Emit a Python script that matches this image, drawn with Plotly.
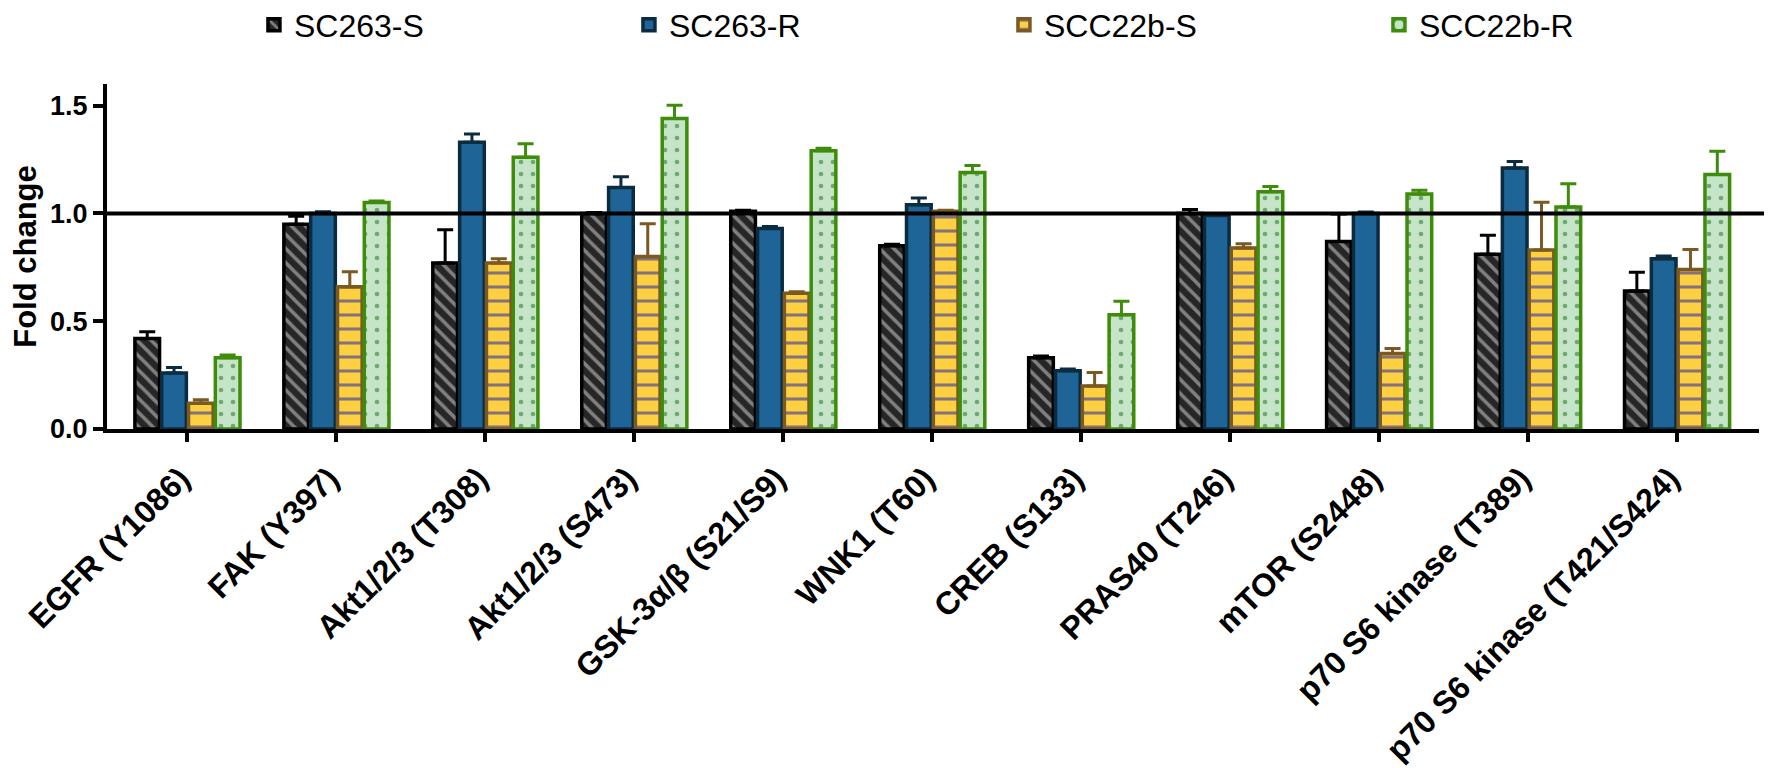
import plotly.graph_objects as go

categories = ["EGFR (Y1086)", "FAK (Y397)", "Akt1/2/3 (T308)", "Akt1/2/3 (S473)",
              "GSK-3α/β (S21/S9)", "WNK1 (T60)", "CREB (S133)", "PRAS40 (T246)",
              "mTOR (S2448)", "p70 S6 kinase (T389)", "p70 S6 kinase (T421/S424)"]

series_names = ["SC263-S", "SC263-R", "SCC22b-S", "SCC22b-R"]

sc263_s = [0.42, 0.95, 0.77, 1.00, 1.01, 0.85, 0.33, 1.00, 0.87, 0.81, 0.64]
sc263_r = [0.26, 1.00, 1.33, 1.12, 0.93, 1.04, 0.27, 0.99, 1.00, 1.21, 0.79]
scc22b_s = [0.12, 0.66, 0.77, 0.80, 0.63, 1.01, 0.20, 0.84, 0.35, 0.83, 0.74]
scc22b_r = [0.33, 1.05, 1.26, 1.44, 1.29, 1.19, 0.53, 1.10, 1.09, 1.03, 1.18]

sc263_s_err = [0.031, 0.037, 0.154, 0.004, 0.005, 0.007, 0.009, 0.018, 0.127, 0.088, 0.087]
sc263_r_err = [0.025, 0.007, 0.038, 0.050, 0.009, 0.031, 0.008, 0.006, 0.006, 0.031, 0.012]
scc22b_s_err = [0.016, 0.069, 0.020, 0.152, 0.006, 0.004, 0.062, 0.019, 0.023, 0.222, 0.093]
scc22b_r_err = [0.013, 0.007, 0.063, 0.061, 0.012, 0.032, 0.062, 0.025, 0.017, 0.107, 0.108]

values = [sc263_s, sc263_r, scc22b_s, scc22b_r]
errors = [sc263_s_err, sc263_r_err, scc22b_s_err, scc22b_r_err]

styles = [
    dict(line="#000000", pattern=dict(shape="\\", bgcolor="#262626", fgcolor="#d9d9d9",
                                       size=10, solidity=0.35, fillmode="overlay"), color="#262626"),
    dict(line="#0b2c40", pattern=None, color="#1f6496"),
    dict(line="#7a5a22", pattern=dict(shape="-", bgcolor="#fdd042", fgcolor="#0a14b4",
                                       size=14, solidity=0.22, fillmode="overlay"), color="#fdd042"),
    dict(line="#3d8c0a", pattern=dict(shape=".", bgcolor="#c6e5c8", fgcolor="#1a6b1a",
                                       size=12, solidity=0.12, fillmode="overlay"), color="#c6e5c8"),
]

FONT = "Arial, Liberation Sans, sans-serif"

fig = go.Figure()
for name, vals, errs, st in zip(series_names, values, errors, styles):
    marker = dict(color=st["color"], line=dict(color=st["line"], width=3.5))
    if st["pattern"] is not None:
        marker["pattern"] = st["pattern"]
    fig.add_trace(go.Bar(
        x=categories, y=vals, name=name, marker=marker,
        error_y=dict(type="data", symmetric=False, array=errs,
                     arrayminus=[0] * len(errs), color=st["line"],
                     thickness=3, width=8),
    ))

fig.add_shape(type="line", xref="paper", yref="y", x0=0, x1=1.0073, y0=1, y1=1,
              line=dict(color="black", width=4), layer="above")

fig.update_layout(
    width=1772, height=768,
    margin=dict(l=99, r=21, t=76, b=347),
    paper_bgcolor="white", plot_bgcolor="white",
    barmode="group", bargap=0.28, bargroupgap=0.08,
    font=dict(family=FONT, color="black"),
    showlegend=True,
    legend=dict(orientation="h", yref="container", y=0.978, yanchor="middle",
                xref="container", x=0.1388, xanchor="left",
                font=dict(size=32, family=FONT),
                entrywidth=330, entrywidthmode="pixels", traceorder="normal"),
    xaxis=dict(range=[-0.54, 10.55], showline=True, linewidth=4, linecolor="black",
               ticks="outside", ticklen=9, tickwidth=4, tickcolor="black",
               tickangle=-45, tickfont=dict(size=32, family=FONT, weight="bold"),
               ticklabelstandoff=5, ticklabelshift=-7,
               showgrid=False, zeroline=False, automargin=False),
    yaxis=dict(range=[0, 1.6], tickvals=[0, 0.5, 1.0, 1.5], tickformat=".1f",
               showline=True, linewidth=4, linecolor="black",
               ticks="outside", ticklen=10, tickwidth=4, tickcolor="black",
               tickfont=dict(size=27, family=FONT, weight="bold"),
               title=dict(text="Fold change", font=dict(size=31, family=FONT, weight="bold"),
                          standoff=36),
               showgrid=False, zeroline=False, automargin=False),
)

fig.write_html("out.html")
